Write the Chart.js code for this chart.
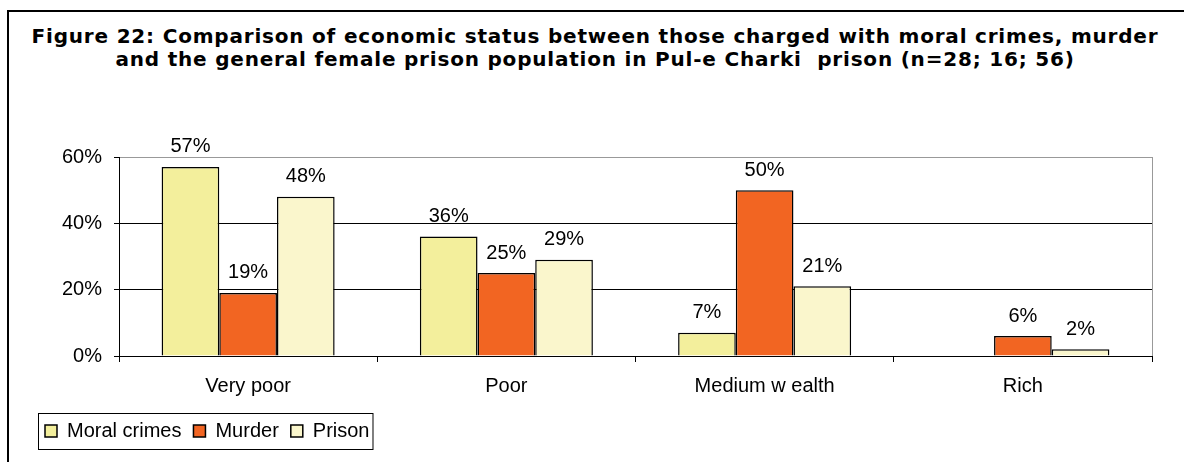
<!DOCTYPE html>
<html>
<head>
<meta charset="utf-8">
<script src="https://cdn.jsdelivr.net/npm/chart.js@4/dist/chart.umd.min.js"></script>
<style>
body{margin:0;background:#fff;}
#frame{position:absolute;left:7px;top:10px;width:1200px;height:470px;border-left:2px solid #000;border-top:2px solid #000;}
#title{position:absolute;left:0;top:25px;width:1190px;text-align:center;font:bold 20px/23px 'DejaVu Sans', Verdana, sans-serif;letter-spacing:0.8px;color:#000;}
#wrap{position:absolute;left:0;top:0;width:1184px;height:462px;}
</style>
</head>
<body>
<div id="frame"></div>
<div id="title"></div>
<div id="wrap"><canvas id="statusChart" width="1184" height="462"></canvas></div>
<script>
const categories = ["Very poor","Poor","Medium w ealth","Rich"];

const moralCrimes = [57,36,7,0];
const murder = [19,25,50,6];
const prison = [48,29,21,2];

const yTicks = [0,20,40,60];

const titleLines = [
"Figure 22: Comparison of economic status between those charged with moral crimes, murder",
"and the general female prison population in Pul-e Charki  prison (n=28; 16; 56)"
];

const titleEl = document.getElementById("title");
titleLines.forEach(line=>{
const d = document.createElement("div");
d.textContent = line;
d.style.whiteSpace = "pre";
titleEl.appendChild(d);
});

// percentage above each bar, blank when the bar is empty
const valueLabels = {
id:"valueLabels",
afterDatasetsDraw(chart){
const ctx = chart.ctx;
ctx.save();
ctx.font = "20px 'Liberation Sans', Arial, sans-serif";
ctx.fillStyle = "#000";
ctx.textAlign = "center";
ctx.textBaseline = "middle";
chart.data.datasets.forEach((ds,i)=>{
chart.getDatasetMeta(i).data.forEach((bar,j)=>{
if(!ds.data[j]) return;
ctx.fillText(ds.data[j]+"%", bar.x, bar.y-20);
});
});
ctx.restore();
}
};

// grey plot-area outline drawn under the axes
const plotOutline = {
id:"plotOutline",
beforeDraw(chart){
const a = chart.chartArea;
const ctx = chart.ctx;
ctx.save();
ctx.strokeStyle = "#999";
ctx.lineWidth = 1;
ctx.strokeRect(a.left+0.5, a.top+0.5, a.right-a.left, a.bottom-a.top);
ctx.restore();
}
};

// box round the legend entries
const legendBox = {
id:"legendBox",
afterDraw(chart){
const boxes = chart.legend.legendHitBoxes;
if(!boxes.length) return;
const first = boxes[0], last = boxes[boxes.length-1];
const ctx = chart.ctx;
ctx.save();
ctx.strokeStyle = "#000";
ctx.lineWidth = 1;
const x = first.left-7, y = first.top-8;
ctx.strokeRect(x+0.5, y+0.5, last.left+last.width+3-x, first.height+16);
ctx.restore();
}
};

const barBase = {borderColor:"#000", borderWidth:1.5, barPercentage:1, categoryPercentage:0.67};

new Chart(document.getElementById("statusChart"),{
type:"bar",
data:{
labels:categories,
datasets:[
Object.assign({label:"Moral crimes", data:moralCrimes, backgroundColor:"#F3EF9C"}, barBase),
Object.assign({label:"Murder", data:murder, backgroundColor:"#F26522"}, barBase),
Object.assign({label:"Prison", data:prison, backgroundColor:"#FAF6CC"}, barBase)
]
},
options:{
responsive:false,
animation:false,
layout:{padding:{left:33,right:32,top:157,bottom:11}},
plugins:{
title:{display:false},
legend:{
position:"bottom",
align:"start",
labels:{
color:"#000",
font:{family:"'Liberation Sans', Arial, sans-serif", size:20},
boxWidth:12,
boxHeight:12,
padding:12
}
},
tooltip:{enabled:false}
},
scales:{
x:{
afterFit(scale){ scale.height -= 1; },
grid:{offset:true, drawOnChartArea:false, tickLength:6, tickColor:"#000"},
border:{color:"#000", width:1},
ticks:{color:"#000", padding:12, font:{family:"'Liberation Sans', Arial, sans-serif", size:20}}
},
y:{
min:0,
max:60,
afterBuildTicks(scale){ scale.ticks = yTicks.map(v=>({value:v})); },
afterFit(scale){ scale.width = 86; },
grid:{
color:c=>c.tick && c.tick.value===60 ? "#999" : "#000",
tickColor:"#000",
tickLength:5
},
border:{color:"#000", width:1},
ticks:{color:"#000", padding:12, font:{family:"'Liberation Sans', Arial, sans-serif", size:20}, callback:v=>v+"%"}
}
}
},
plugins:[plotOutline, valueLabels, legendBox]
});
</script>
</body>
</html>
